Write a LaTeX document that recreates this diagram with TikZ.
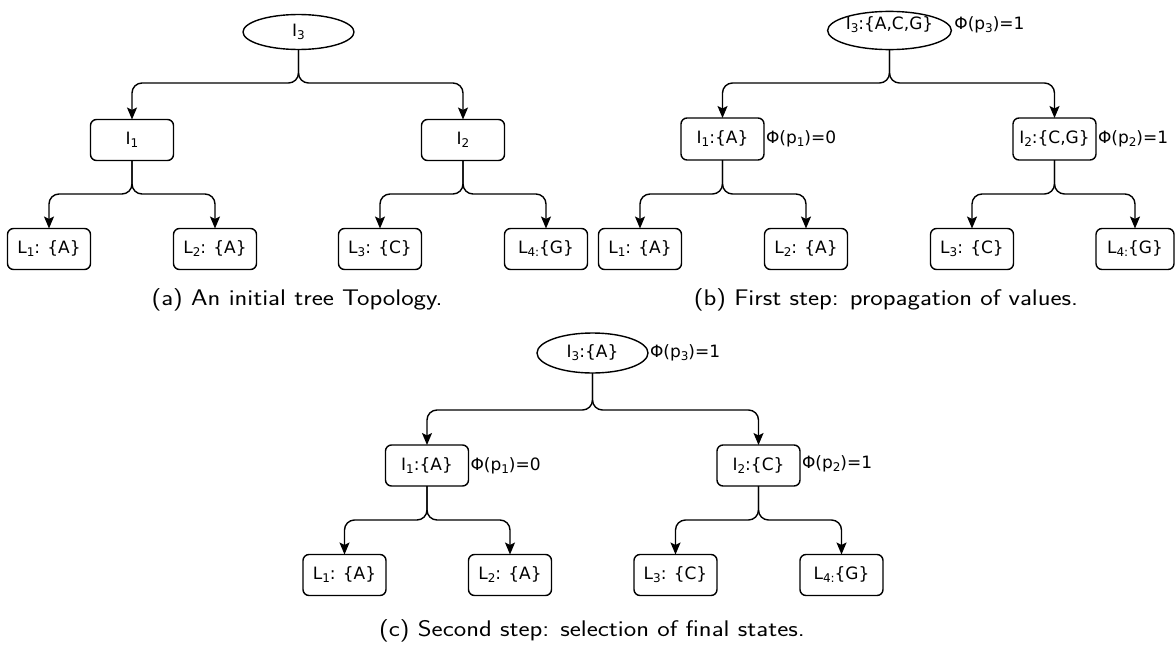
\documentclass[tikz,border=0pt]{standalone}
\usepackage{fontspec}
\usepackage{graphicx}
\newfontfamily\nodefont{DejaVu Sans}
\usetikzlibrary{arrows.meta,shapes.geometric}
\newcommand{\lsub}[1]{\raisebox{-0.35ex}{\fontsize{12}{12}\selectfont #1}}
\newcommand{\captxt}[1]{\scalebox{1.17}[1]{#1}}
\tikzset{
  every node/.style={inner sep=2pt, outer sep=0pt},
  lbl/.style={font=\nodefont\fontsize{17}{19}\selectfont, text height=12pt, text depth=3pt},
  box/.style={lbl, draw, line width=1.4pt, rounded corners=6pt,
              minimum width=83pt, minimum height=41pt},
  oval/.style={lbl, draw, ellipse, line width=1.4pt, inner sep=0pt},
  phi/.style={font=\nodefont\fontsize{17}{19}\selectfont, anchor=base west, inner sep=0pt},
  arr/.style={line width=1.4pt, rounded corners=10pt,
              -{Stealth[length=12pt,width=10pt,inset=2.5pt]}},
  captext/.style={font=\sffamily\fontsize{22.6}{26}\selectfont, anchor=base, inner sep=0pt}
}
\begin{document}
\begin{tikzpicture}[x=1pt,y=-1pt]
\useasboundingbox (0,0) rectangle (1175,645);

% ---------- (a) initial topology ----------
\node[oval, minimum width=111pt, minimum height=35pt] (a3) at (298.5,32) {I\lsub{3}};
\node[box] (a1) at (132,140) {I\lsub{1}};
\node[box] (a2) at (463,140) {I\lsub{2}};
\node[box] (aL1) at (49,249)  {L\lsub{1}: \{A\}};
\node[box] (aL2) at (215,249) {L\lsub{2}: \{A\}};
\node[box] (aL3) at (380,249) {L\lsub{3}: \{C\}};
\node[box] (aL4) at (546,249) {L\lsub{4:}\{G\}};
\coordinate (aj3) at (298.5,83);
\coordinate (aj1) at (132,194);
\coordinate (aj2) at (463,194);
\draw[arr] (a3.south) -- (aj3) -| (a1.north);
\draw[arr] (a3.south) -- (aj3) -| (a2.north);
\draw[arr] (a1.south) -- (aj1) -| (aL1.north);
\draw[arr] (a1.south) -- (aj1) -| (aL2.north);
\draw[arr] (a2.south) -- (aj2) -| (aL3.north);
\draw[arr] (a2.south) -- (aj2) -| (aL4.north);
\node[captext] (capa) at (297,305) {\captxt{(a) An initial tree Topology.}};

% ---------- (b) propagation of values ----------
\node[oval, minimum width=115pt, minimum height=35pt, text height=12pt, text depth=15pt]
  (b3) at (889.5,30.5) {I\lsub{3}:\{A,C,G\}};
\node[box, minimum height=42pt] (b1) at (722.5,139) {I\lsub{1}:\{A\}};
\node[box, minimum height=42pt] (b2) at (1054.5,139) {I\lsub{2}:\{C,G\}};
\node[box] (bL1) at (640,249)  {L\lsub{1}: \{A\}};
\node[box] (bL2) at (806,249)  {L\lsub{2}: \{A\}};
\node[box] (bL3) at (972,249)  {L\lsub{3}: \{C\}};
\node[box, minimum width=78pt] (bL4) at (1135,249) {L\lsub{4:}\{G\}};
\path (b3.east |- b3.base) ++(3,0) node[phi] (bp3) {Φ(p\lsub{3})=1};
\path (b1.east |- b1.base) ++(2,0) node[phi] (bp1) {Φ(p\lsub{1})=0};
\path (b2.east |- b2.base) ++(2,0) node[phi] (bp2) {Φ(p\lsub{2})=1};
\coordinate (bj3) at (889.5,83);
\coordinate (bj1) at (722.5,194);
\coordinate (bj2) at (1054.5,194);
\draw[arr] (b3.south) -- (bj3) -| (b1.north);
\draw[arr] (b3.south) -- (bj3) -| (b2.north);
\draw[arr] (b1.south) -- (bj1) -| (bL1.north);
\draw[arr] (b1.south) -- (bj1) -| (bL2.north);
\draw[arr] (b2.south) -- (bj2) -| (bL3.north);
\draw[arr] (b2.south) -- (bj2) -| (bL4.north);
\node[captext] (capb) at (886,305) {\captxt{(b) First step: propagation of values.}};

% ---------- (c) selection of final states ----------
\node[oval, minimum width=111pt, minimum height=40pt] (c3) at (592.5,353) {I\lsub{3}:\{A\}};
\node[box] (c1) at (427,465.5) {I\lsub{1}:\{A\}};
\node[box] (c2) at (758.5,465.5) {I\lsub{2}:\{C\}};
\node[box] (cL1) at (344.5,575) {L\lsub{1}: \{A\}};
\node[box] (cL2) at (510,575) {L\lsub{2}: \{A\}};
\node[box] (cL3) at (675.5,575) {L\lsub{3}: \{C\}};
\node[box] (cL4) at (841.5,575) {L\lsub{4:}\{G\}};
\path (c3.east |- c3.base) ++(2,0) node[phi] (cp3) {Φ(p\lsub{3})=1};
\path (c1.east |- c1.base) ++(2,0) node[phi] (cp1) {Φ(p\lsub{1})=0};
\path (c2.east |- c2.base) ++(2,-2) node[phi] (cp2) {Φ(p\lsub{2})=1};
\coordinate (cj3) at (592.5,410);
\coordinate (cj1) at (427,520);
\coordinate (cj2) at (758.5,520);
\draw[arr] (c3.south) -- (cj3) -| (c1.north);
\draw[arr] (c3.south) -- (cj3) -| (c2.north);
\draw[arr] (c1.south) -- (cj1) -| (cL1.north);
\draw[arr] (c1.south) -- (cj1) -| (cL2.north);
\draw[arr] (c2.south) -- (cj2) -| (cL3.north);
\draw[arr] (c2.south) -- (cj2) -| (cL4.north);
\node[captext] (capc) at (592,636) {\captxt{(c) Second step: selection of final states.}};
\end{tikzpicture}
\end{document}
